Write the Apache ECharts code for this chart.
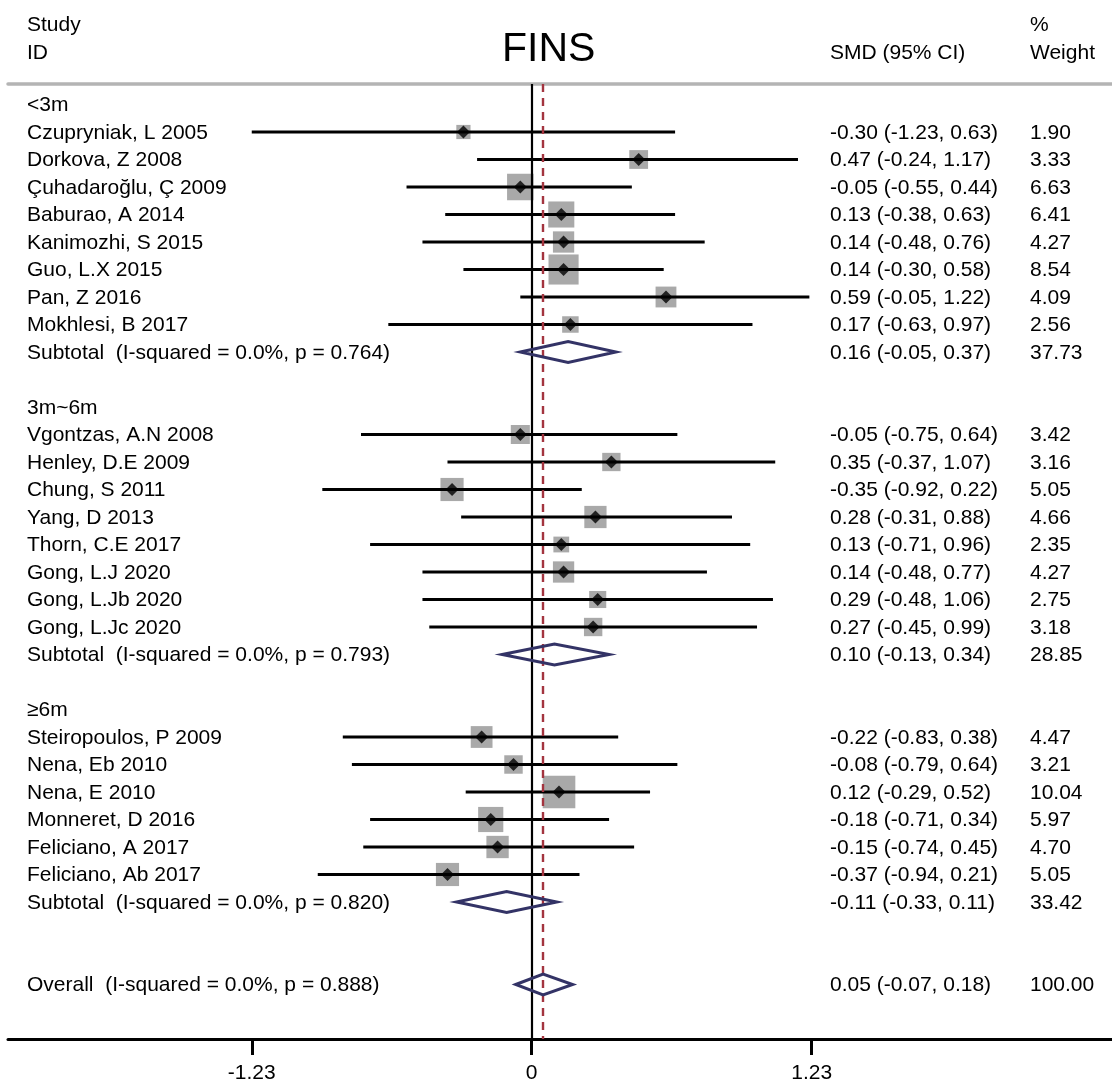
<!DOCTYPE html>
<html><head><meta charset="utf-8">
<script src="https://cdn.jsdelivr.net/npm/echarts@6/dist/echarts.min.js"></script>
<style>html,body{margin:0;padding:0;background:#fff}#c{width:1112px;height:1080px}</style>
</head><body><div id="c"></div><script>
// ---- data ----
const groups = ['<3m', '3m~6m', '≥6m'];
const studyNames = [
  'Czupryniak, L 2005', 'Dorkova, Z 2008', 'Çuhadaroğlu, Ç 2009', 'Baburao, A 2014',
  'Kanimozhi, S 2015', 'Guo, L.X 2015', 'Pan, Z 2016', 'Mokhlesi, B 2017',
  'Vgontzas, A.N 2008', 'Henley, D.E 2009', 'Chung, S 2011', 'Yang, D 2013',
  'Thorn, C.E 2017', 'Gong, L.J 2020', 'Gong, L.Jb 2020', 'Gong, L.Jc 2020',
  'Steiropoulos, P 2009', 'Nena, Eb 2010', 'Nena, E 2010', 'Monneret, D 2016',
  'Feliciano, A 2017', 'Feliciano, Ab 2017'
];
const studyGroup = [0,0,0,0,0,0,0,0, 1,1,1,1,1,1,1,1, 2,2,2,2,2,2];
const studyEst = [-0.30, 0.47, -0.05, 0.13, 0.14, 0.14, 0.59, 0.17,
  -0.05, 0.35, -0.35, 0.28, 0.13, 0.14, 0.29, 0.27,
  -0.22, -0.08, 0.12, -0.18, -0.15, -0.37];
const studyLci = [-1.23, -0.24, -0.55, -0.38, -0.48, -0.30, -0.05, -0.63,
  -0.75, -0.37, -0.92, -0.31, -0.71, -0.48, -0.48, -0.45,
  -0.83, -0.79, -0.29, -0.71, -0.74, -0.94];
const studyUci = [0.63, 1.17, 0.44, 0.63, 0.76, 0.58, 1.22, 0.97,
  0.64, 1.07, 0.22, 0.88, 0.96, 0.77, 1.06, 0.99,
  0.38, 0.64, 0.52, 0.34, 0.45, 0.21];
const studyWeight = [1.90, 3.33, 6.63, 6.41, 4.27, 8.54, 4.09, 2.56,
  3.42, 3.16, 5.05, 4.66, 2.35, 4.27, 2.75, 3.18,
  4.47, 3.21, 10.04, 5.97, 4.70, 5.05];
const subtotalHet = ['I-squared = 0.0%, p = 0.764', 'I-squared = 0.0%, p = 0.793', 'I-squared = 0.0%, p = 0.820'];
const subtotalEst = [0.16, 0.10, -0.11];
const subtotalLci = [-0.05, -0.13, -0.33];
const subtotalUci = [0.37, 0.34, 0.11];
const subtotalWeight = [37.73, 28.85, 33.42];
const overallHet = 'I-squared = 0.0%, p = 0.888';
const overallEst = [0.05];
const overallLci = [-0.07];
const overallUci = [0.18];
const overallWeight = [100.00];
const tickValues = [-1.23, 0, 1.23];
const tickLabels = ['-1.23', '0', '1.23'];

// ---- build rows ----
const rows = [];
groups.forEach((g, gi) => {
  rows.push({ type: 'head', label: g });
  studyNames.forEach((n, i) => {
    if (studyGroup[i] === gi) rows.push({ type: 'study', label: n, est: studyEst[i], lci: studyLci[i], uci: studyUci[i], w: studyWeight[i] });
  });
  rows.push({ type: 'pool', label: 'Subtotal  (' + subtotalHet[gi] + ')', est: subtotalEst[gi], lci: subtotalLci[gi], uci: subtotalUci[gi], w: subtotalWeight[gi] });
  rows.push({ type: 'blank', label: '' });
});
rows.push({ type: 'blank', label: '' });
rows.push({ type: 'pool', label: 'Overall  (' + overallHet + ')', est: overallEst[0], lci: overallLci[0], uci: overallUci[0], w: overallWeight[0] });

const studyRows = [], poolRows = [];
rows.forEach((r, i) => {
  if (r.type === 'study') studyRows.push([r.est, i, r.lci, r.uci, r.w]);
  if (r.type === 'pool') poolRows.push([r.est, i, r.lci, r.uci, r.w]);
});

// ---- layout ----
const FAM = '"Liberation Sans", Arial, Helvetica, sans-serif';
const FONT = '21px ' + FAM;
const gridLeft = 8, gridWidth = 1104, zeroPx = 531.7, pxPerUnit = 227.6;
const xMin = -(zeroPx - gridLeft) / pxPerUnit;
const xMax = xMin + gridWidth / pxPerUnit;
const rowTop = 104.5, rowStep = 27.5, gridTop = 84, gridBottomPx = 1039;
const yMin = (gridTop - rowTop) / rowStep;
const yMax = (gridBottomPx - rowTop) / rowStep;
const colSMD = 830, colW = 1030, colLabel = 27, textDy = 1;

const fmt = v => v.toFixed(2);

const chart = echarts.init(document.getElementById('c'), null, { renderer: 'canvas' });
chart.setOption({
  animation: false,
  backgroundColor: '#fff',
  grid: { left: gridLeft, right: 1112 - gridLeft - gridWidth, top: gridTop, bottom: 1080 - gridBottomPx,
    containLabel: false, outerBoundsMode: 'none' },
  xAxis: [{
    type: 'value', min: xMin, max: xMax, position: 'bottom',
    axisLine: { show: true, onZero: false, lineStyle: { color: '#000', width: 3 } },
    axisTick: { show: true, customValues: tickValues, length: 16, inside: false, lineStyle: { color: '#000', width: 3 } },
    axisLabel: { show: true, customValues: tickValues, margin: 24, color: '#000', fontSize: 21, fontFamily: FAM,
      formatter: v => { const k = tickValues.findIndex(t => Math.abs(t - v) < 1e-9); return k >= 0 ? tickLabels[k] : ''; } },
    splitLine: { show: false }
  }, {
    type: 'value', min: xMin, max: xMax, position: 'top',
    axisLine: { show: true, onZero: false, lineStyle: { color: '#b4b4b4', width: 3.5 } },
    axisTick: { show: false }, axisLabel: { show: false }, splitLine: { show: false }
  }],
  yAxis: { type: 'value', inverse: true, min: yMin, max: yMax, show: false },
  graphic: [
    { type: 'text', style: { x: 548.7, y: 50, text: 'FINS', font: '41px ' + FAM, fill: '#000', align: 'center', verticalAlign: 'middle' } },
    { type: 'text', style: { x: colLabel, y: 25, text: 'Study', font: FONT, fill: '#000', verticalAlign: 'middle' } },
    { type: 'text', style: { x: colLabel, y: 53, text: 'ID', font: FONT, fill: '#000', verticalAlign: 'middle' } },
    { type: 'text', style: { x: colSMD, y: 53, text: 'SMD (95% CI)', font: FONT, fill: '#000', verticalAlign: 'middle' } },
    { type: 'text', style: { x: colW, y: 25, text: '%', font: FONT, fill: '#000', verticalAlign: 'middle' } },
    { type: 'text', style: { x: colW, y: 53, text: 'Weight', font: FONT, fill: '#000', verticalAlign: 'middle' } }
  ],
  series: [
    { // weight boxes
      type: 'custom', name: 'boxes', z: 2, data: studyRows,
      renderItem: (p, api) => {
        const c = api.coord([api.value(0), api.value(1)]);
        const s = 10.3 * Math.sqrt(api.value(4));
        return { type: 'rect', shape: { x: c[0] - s / 2, y: c[1] - s / 2, width: s, height: s }, style: { fill: '#a9a9a9' } };
      }
    },
    { // reference lines
      type: 'line', name: 'ref', data: [], z: 3,
      markLine: {
        silent: true, symbol: 'none', label: { show: false },
        data: [
          { xAxis: 0, lineStyle: { color: '#000', width: 2.2, type: 'solid' } },
          { xAxis: overallEst[0], lineStyle: { color: '#a3343f', width: 2.4, type: [8, 6] } }
        ]
      }
    },
    { // CI lines
      type: 'custom', name: 'ci', z: 4, data: studyRows,
      renderItem: (p, api) => {
        const a = api.coord([api.value(2), api.value(1)]);
        const b = api.coord([api.value(3), api.value(1)]);
        return { type: 'line', shape: { x1: a[0], y1: a[1], x2: b[0], y2: b[1] }, style: { stroke: '#000', lineWidth: 3 } };
      }
    },
    { // point estimates
      type: 'scatter', name: 'est', z: 5, symbol: 'diamond', symbolSize: [13, 13],
      itemStyle: { color: '#000' }, data: studyRows.map(r => [r[0], r[1]])
    },
    { // pooled diamonds
      type: 'custom', name: 'pooled', z: 6, data: poolRows,
      renderItem: (p, api) => {
        const y = api.value(1);
        const l = api.coord([api.value(2), y]);
        const m = api.coord([api.value(0), y]);
        const r = api.coord([api.value(3), y]);
        const h = 10.5;
        return { type: 'polygon', shape: { points: [[l[0], l[1]], [m[0], m[1] - h], [r[0], r[1]], [m[0], m[1] + h]] },
          style: { fill: 'none', stroke: '#333366', lineWidth: 3 } };
      }
    },
    { // row texts
      type: 'custom', name: 'text', z: 7, data: rows.map((r, i) => [0, i]),
      renderItem: (p, api) => {
        const r = rows[p.dataIndex];
        const y = api.coord([0, api.value(1)])[1] + textDy;
        const children = [];
        if (r.label) children.push({ type: 'text', style: { x: colLabel, y: y, text: r.label, font: FONT, fill: '#000', verticalAlign: 'middle' } });
        if (r.type === 'study' || r.type === 'pool') {
          children.push({ type: 'text', style: { x: colSMD, y: y, text: fmt(r.est) + ' (' + fmt(r.lci) + ', ' + fmt(r.uci) + ')', font: FONT, fill: '#000', verticalAlign: 'middle' } });
          children.push({ type: 'text', style: { x: colW, y: y, text: fmt(r.w), font: FONT, fill: '#000', verticalAlign: 'middle' } });
        }
        return { type: 'group', children };
      }
    }
  ]
});
</script></body></html>
